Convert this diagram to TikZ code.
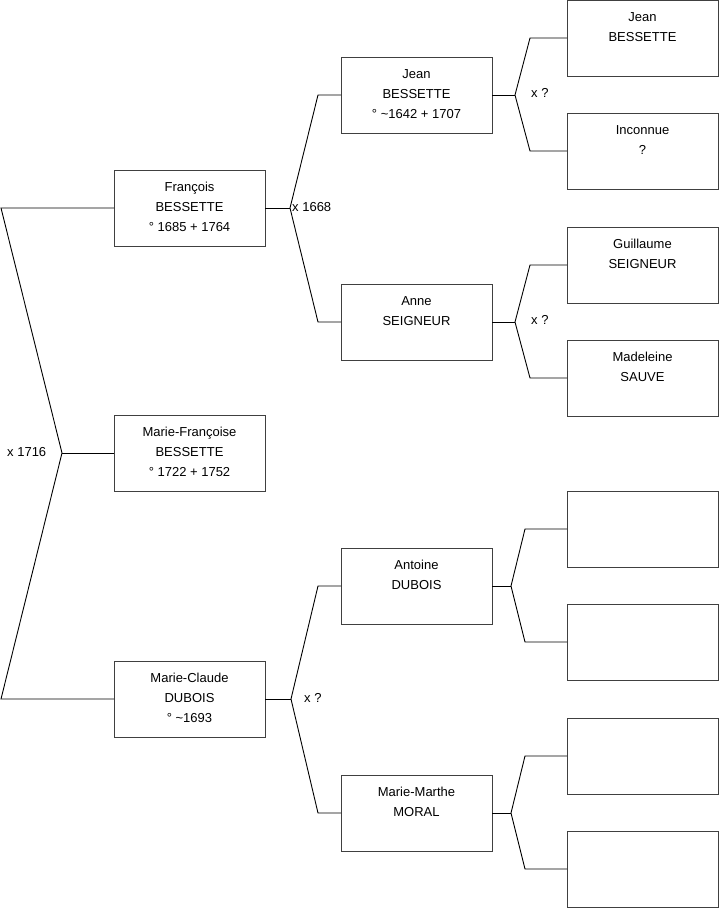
\documentclass[tikz,border=0pt]{standalone}
\usepackage{fontspec}
\setmainfont{Liberation Sans}
\begin{document}
\begin{tikzpicture}[x=1pt,y=-1pt,
  box/.style={draw=black!75,line width=1pt,minimum width=151pt,minimum height=76pt,inner sep=0pt,outer sep=0pt,anchor=north west},
  txt/.style={anchor=north,inner sep=0pt,align=center,font=\fontsize{13}{20}\selectfont},
  lnk/.style={draw=black,line width=0.9pt},
  mar/.style={inner sep=0pt,font=\fontsize{13}{16}\selectfont}]
\useasboundingbox (0,0) rectangle (719,908);
% left column
\node[box] (fr) at (114,170) {};
\node[box] (mf) at (114,415) {};
\node[box] (mc) at (114,661) {};
% middle column
\node[box] (jb) at (341,57) {};
\node[box] (as) at (341,284) {};
\node[box] (ad) at (341,548) {};
\node[box] (mm) at (341,775) {};
% right column
\node[box] (r1) at (567,0) {};
\node[box] (r2) at (567,113) {};
\node[box] (r3) at (567,227) {};
\node[box] (r4) at (567,340) {};
\node[box] (r5) at (567,491) {};
\node[box] (r6) at (567,604) {};
\node[box] (r7) at (567,718) {};
\node[box] (r8) at (567,831) {};
% texts
\node[txt] (tfr) at ([yshift=-12.3pt]fr.north) {François\\BESSETTE\\° 1685 + 1764};
\node[txt] (tmf) at ([yshift=-12.3pt]mf.north) {Marie-Françoise\\BESSETTE\\° 1722 + 1752};
\node[txt] (tmc) at ([yshift=-12.3pt]mc.north) {Marie-Claude\\DUBOIS\\° \textasciitilde1693};
\node[txt] (tjb) at ([yshift=-12.3pt]jb.north) {Jean\\BESSETTE\\° \textasciitilde1642 + 1707};
\node[txt] (tas) at ([yshift=-12.3pt]as.north) {Anne\\SEIGNEUR};
\node[txt] (tad) at ([yshift=-12.3pt]ad.north) {Antoine\\DUBOIS};
\node[txt] (tmm) at ([yshift=-12.3pt]mm.north) {Marie-Marthe\\MORAL};
\node[txt] (tr1) at ([yshift=-12.3pt]r1.north) {Jean\\BESSETTE};
\node[txt] (tr2) at ([yshift=-12.3pt]r2.north) {Inconnue\\?};
\node[txt] (tr3) at ([yshift=-12.3pt]r3.north) {Guillaume\\SEIGNEUR};
\node[txt] (tr4) at ([yshift=-12.3pt]r4.north) {Madeleine\\SAUVE};
% bracket vertices
\coordinate (a1) at (1,208);
\coordinate (v0) at (62,453);
\coordinate (a2) at (1,699);
\coordinate (v1) at (290,208);
\coordinate (v2) at (291,699);
\coordinate (v3) at (515,95);
\coordinate (v4) at (515,322);
\coordinate (v5) at (511,586);
\coordinate (v6) at (511,813);
% left bracket
\draw[lnk] (fr.west) -- (a1) -- (v0) -- (a2) -- (mc.west);
\draw[lnk] (v0) -- (mf.west);
% middle brackets
\draw[lnk] (fr.east) -- (v1);
\draw[lnk] (jb.west) -- ++(-23,0) -- (v1) -- ([xshift=-23pt]as.west) -- (as.west);
\draw[lnk] (mc.east) -- (v2);
\draw[lnk] (ad.west) -- ++(-23,0) -- (v2) -- ([xshift=-23pt]mm.west) -- (mm.west);
% right brackets
\draw[lnk] (jb.east) -- (v3);
\draw[lnk] (r1.west) -- ++(-37,0) -- (v3) -- ([xshift=-37pt]r2.west) -- (r2.west);
\draw[lnk] (as.east) -- (v4);
\draw[lnk] (r3.west) -- ++(-37,0) -- (v4) -- ([xshift=-37pt]r4.west) -- (r4.west);
\draw[lnk] (ad.east) -- (v5);
\draw[lnk] (r5.west) -- ++(-42,0) -- (v5) -- ([xshift=-42pt]r6.west) -- (r6.west);
\draw[lnk] (mm.east) -- (v6);
\draw[lnk] (r7.west) -- ++(-42,0) -- (v6) -- ([xshift=-42pt]r8.west) -- (r8.west);
% marriage labels
\node[mar,anchor=west] (m0) at (7,452) {x 1716};
\node[mar,anchor=west] (m1) at (292,207) {x 1668};
\node[mar,anchor=west] (m2) at (304,698) {x ?};
\node[mar,anchor=west] (m3) at (531,93) {x ?};
\node[mar,anchor=west] (m4) at (531,320) {x ?};
\end{tikzpicture}
\end{document}
